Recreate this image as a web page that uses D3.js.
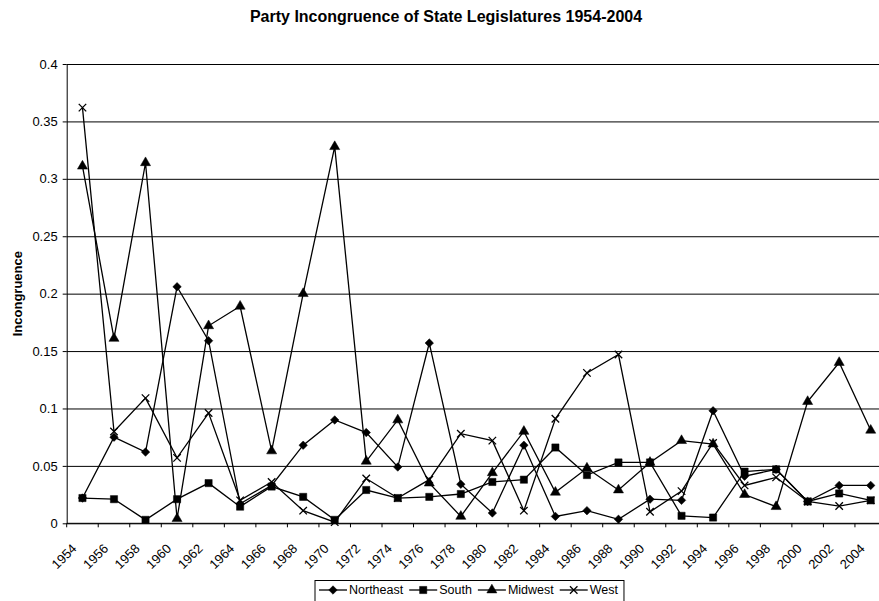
<!DOCTYPE html>
<head>
  <title>Party Incongruence of State Legislatures 1954-2004</title>
  <style>
    body { margin: 0; background: #fff; }
    text { font-family: "Liberation Sans", Arial, sans-serif; fill: #000; }
  </style>
</head>

<body>
  <script type="text/javascript" src="https://d3js.org/d3.v7.min.js"></script>

  <script>
    // data
    var years = ["1954","1956","1958","1960","1962","1964","1966","1968","1970","1972","1974","1976","1978",
                 "1980","1982","1984","1986","1988","1990","1992","1994","1996","1998","2000","2002","2004"];
    var northeast = [0.022,0.075,0.062,0.206,0.159,0.017,0.033,0.068,0.090,0.079,0.049,0.157,0.034,
                     0.009,0.068,0.006,0.011,0.0035,0.021,0.020,0.098,0.041,0.047,0.019,0.033,0.033];
    var south     = [0.022,0.021,0.003,0.021,0.035,0.0145,0.032,0.023,0.003,0.029,0.022,0.023,0.0255,
                     0.036,0.038,0.066,0.042,0.053,0.053,0.0065,0.005,0.045,0.047,0.019,0.026,0.020];
    var midwest   = [0.311,0.161,0.314,0.004,0.172,0.189,0.063,0.200,0.328,0.054,0.090,0.035,0.006,
                     0.044,0.080,0.027,0.048,0.029,0.053,0.072,0.069,0.025,0.0145,0.106,0.140,0.081];
    var west      = [0.362,0.080,0.109,0.057,0.096,0.020,0.036,0.011,0.001,0.039,0.022,0.038,0.078,
                     0.072,0.011,0.091,0.131,0.147,0.010,0.028,0.070,0.033,0.040,0.019,0.015,0.020];
    var seriesNames = ["Northeast", "South", "Midwest", "West"];
    var yTicks = [0, 0.05, 0.1, 0.15, 0.2, 0.25, 0.3, 0.35, 0.4];
    var yTickLabels = ["0", "0.05", "0.1", "0.15", "0.2", "0.25", "0.3", "0.35", "0.4"];

    var width = 879, height = 601;
    var plot = {left: 66.7, top: 64, bottom: 523.3, bandW: 31.53};

    var svg = d3.select("body").append("svg")
      .attr("width", width)
      .attr("height", height);

    svg.append("rect").attr("width", width).attr("height", height).attr("fill", "#fff");

    var xScale = d3.scaleBand().domain(years)
          .range([plot.left, plot.left + plot.bandW * years.length]),
        yScale = d3.scaleLinear().domain([0, 0.4]).range([plot.bottom, plot.top]);

    // markers
    var crossSymbol = {
      draw: function (ctx, size) {
        var r = Math.sqrt(size) / 2;
        ctx.moveTo(-r, -r); ctx.lineTo(r, r);
        ctx.moveTo(r, -r); ctx.lineTo(-r, r);
      }
    };
    var markers = [
      {type: d3.symbolSquare, size: 36, rotate: 45, fill: "#000"},
      {type: d3.symbolSquare, size: 52, rotate: 0, fill: "#000"},
      {type: d3.symbolTriangle, size: 44, rotate: 0, fill: "#000"},
      {type: crossSymbol, size: 56, rotate: 0, fill: "none"}
    ];
    var allSeries = [northeast, south, midwest, west];

    // gridlines
    svg.append("g")
      .attr("id", "grid")
      .attr("transform", "translate(" + plot.left + ",0)")
      .call(d3.axisLeft(yScale).tickValues(yTicks).tickFormat("").tickSize(-(width - plot.left + 20)))
      .call(function (g) { g.select(".domain").remove(); })
      .selectAll("line").attr("stroke", "#000").attr("stroke-width", 1);

    // y axis
    var yAxis = svg.append("g")
      .attr("id", "y-axis")
      .attr("transform", "translate(" + plot.left + ",0)")
      .call(d3.axisLeft(yScale).tickValues(yTicks)
        .tickFormat(function (d, i) { return yTickLabels[i]; })
        .tickSize(4).tickSizeOuter(0).tickPadding(5));
    yAxis.select(".domain").attr("stroke", "#000");
    yAxis.selectAll("text").style("font-size", "13px").style("font-family", "Liberation Sans, Arial");

    svg.append("text")
      .attr("transform", "translate(22," + ((plot.top + plot.bottom) / 2) + ")rotate(-90)")
      .attr("text-anchor", "middle")
      .style("font-size", "13px")
      .style("font-weight", "bold")
      .text("Incongruence");

    // x axis
    var xAxis = svg.append("g").attr("id", "x-axis");
    xAxis.append("line")
      .attr("x1", plot.left).attr("x2", width + 10)
      .attr("y1", plot.bottom).attr("y2", plot.bottom)
      .attr("stroke", "#000");
    xAxis.selectAll(".tick")
      .data(years)
      .enter()
      .append("line")
      .attr("x1", function (d) { return xScale(d); })
      .attr("x2", function (d) { return xScale(d); })
      .attr("y1", plot.bottom).attr("y2", plot.bottom + 4)
      .attr("stroke", "#000");
    xAxis.selectAll(".lbl")
      .data(years)
      .enter()
      .append("text")
      .attr("transform", function (d) {
        return "translate(" + (xScale(d) + xScale.bandwidth() / 2 - 5) + "," + (plot.bottom + 26) + ")rotate(-45)";
      })
      .attr("text-anchor", "end")
      .style("font-size", "13px")
      .text(function (d) { return d; });

    // lines + markers
    var line = d3.line()
      .x(function (d, i) { return xScale(years[i]) + xScale.bandwidth() / 2; })
      .y(function (d) { return yScale(d); });

    for (let s = 0; s < allSeries.length; s++) {
      svg.append("path")
        .attr("fill", "none")
        .attr("stroke", "#000")
        .attr("stroke-width", 1.3)
        .attr("d", line(allSeries[s]));
    }
    for (let s = 0; s < allSeries.length; s++) {
      var m = markers[s];
      svg.append("g").selectAll("path")
        .data(allSeries[s])
        .enter()
        .append("path")
        .attr("d", d3.symbol().type(m.type).size(m.size))
        .attr("transform", function (d, i) {
          return "translate(" + (xScale(years[i]) + xScale.bandwidth() / 2) + "," + yScale(d) + ")rotate(" + m.rotate + ")";
        })
        .attr("fill", m.fill)
        .attr("stroke", "#000")
        .attr("stroke-width", s == 3 ? 1.3 : 0.5);
    }

    // title
    svg.append("text")
      .attr("x", 446)
      .attr("y", 21.5)
      .attr("text-anchor", "middle")
      .style("font-size", "16px")
      .style("font-weight", "bold")
      .text("Party Incongruence of State Legislatures 1954-2004");

    // legend - laid out by measured text widths
    var legend = svg.append("g").attr("id", "legend");
    var box = legend.append("rect")
      .attr("x", 315).attr("y", 580.5)
      .attr("height", 24)
      .attr("fill", "#fff").attr("stroke", "#000");
    var lx = 319;
    for (let s = 0; s < seriesNames.length; s++) {
      var lg = legend.append("g").attr("transform", "translate(" + lx + ",590)");
      lg.append("line").attr("x1", 0).attr("x2", 28).attr("stroke", "#000").attr("stroke-width", 1.3);
      lg.append("path")
        .attr("d", d3.symbol().type(markers[s].type).size(markers[s].size))
        .attr("transform", "translate(14,0)rotate(" + markers[s].rotate + ")")
        .attr("fill", markers[s].fill)
        .attr("stroke", "#000")
        .attr("stroke-width", s == 3 ? 1.3 : 0.5);
      var t = lg.append("text")
        .attr("x", 30)
        .attr("dy", "0.35em")
        .style("font-size", "12.5px")
        .text(seriesNames[s]);
      lx += 30 + t.node().getComputedTextLength() + 6;
    }
    box.attr("width", lx - 315);
  </script>

</body>
